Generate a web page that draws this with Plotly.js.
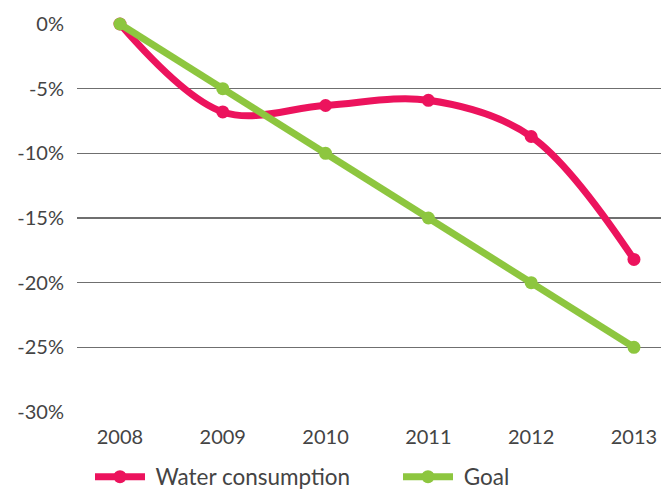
<!DOCTYPE html>
<html>
<head>
<meta charset="utf-8">
<script src="https://cdn.plot.ly/plotly-3.0.1.min.js"></script>
<style>html,body{margin:0;padding:0;background:#fff;}#chart{width:661px;height:491px;}</style>
</head>
<body>
<div id="chart"></div>
<script>
const years = [2008, 2009, 2010, 2011, 2012, 2013];
const waterConsumption = [0, -6.8, -6.3, -5.9, -8.7, -18.2];
const goal = [0, -5, -10, -15, -20, -25];
const yTicks = [0, -5, -10, -15, -20, -25, -30];
const yTickLabels = ['0%', '-5%', '-10%', '-15%', '-20%', '-25%', '-30%'];
const seriesNames = ['Water consumption', 'Goal'];

const traces = [
  {
    x: years, y: waterConsumption, name: '\u00a0' + seriesNames[0],
    type: 'scatter', mode: 'lines+markers',
    line: {color: '#EC135D', width: 7, shape: 'spline', smoothing: 1},
    marker: {color: '#EC135D', size: 13},
    cliponaxis: false, legend: 'legend'
  },
  {
    x: years, y: goal, name: '\u00a0' + seriesNames[1],
    type: 'scatter', mode: 'lines+markers',
    line: {color: '#8DC63F', width: 7},
    marker: {color: '#8DC63F', size: 13},
    cliponaxis: false, legend: 'legend2'
  }
];

const legendBase = {
  orientation: 'h', xref: 'container', yref: 'container',
  xanchor: 'left', y: 14 / 491, yanchor: 'middle',
  font: {family: 'Lato, sans-serif', size: 22.5, color: '#444'},
  itemwidth: 50, bgcolor: 'rgba(0,0,0,0)'
};

const layout = {
  width: 661, height: 491,
  margin: {l: 77, r: 0, t: 24, b: 79, autoexpand: false},
  paper_bgcolor: '#fff', plot_bgcolor: '#fff',
  font: {family: 'Lato, sans-serif', size: 20, color: '#444'},
  showlegend: true,
  legend: Object.assign({}, legendBase, {x: 90 / 661}),
  legend2: Object.assign({}, legendBase, {x: 398 / 661}),
  xaxis: {
    range: [2007.582, 2013.263],
    tickvals: years, ticktext: years.map(String),
    showgrid: false, zeroline: false, showline: false, ticks: '',
    ticklabelstandoff: 11, fixedrange: true
  },
  yaxis: {
    range: [-30, 0],
    tickvals: yTicks, ticktext: yTickLabels,
    showgrid: true, gridcolor: '#6f6f6f', gridwidth: 1.5,
    zeroline: false, showline: false, ticks: '',
    ticklabelstandoff: 12, fixedrange: true
  }
};

Plotly.newPlot('chart', traces, layout, {displayModeBar: false, staticPlot: true});
</script>
</body>
</html>
